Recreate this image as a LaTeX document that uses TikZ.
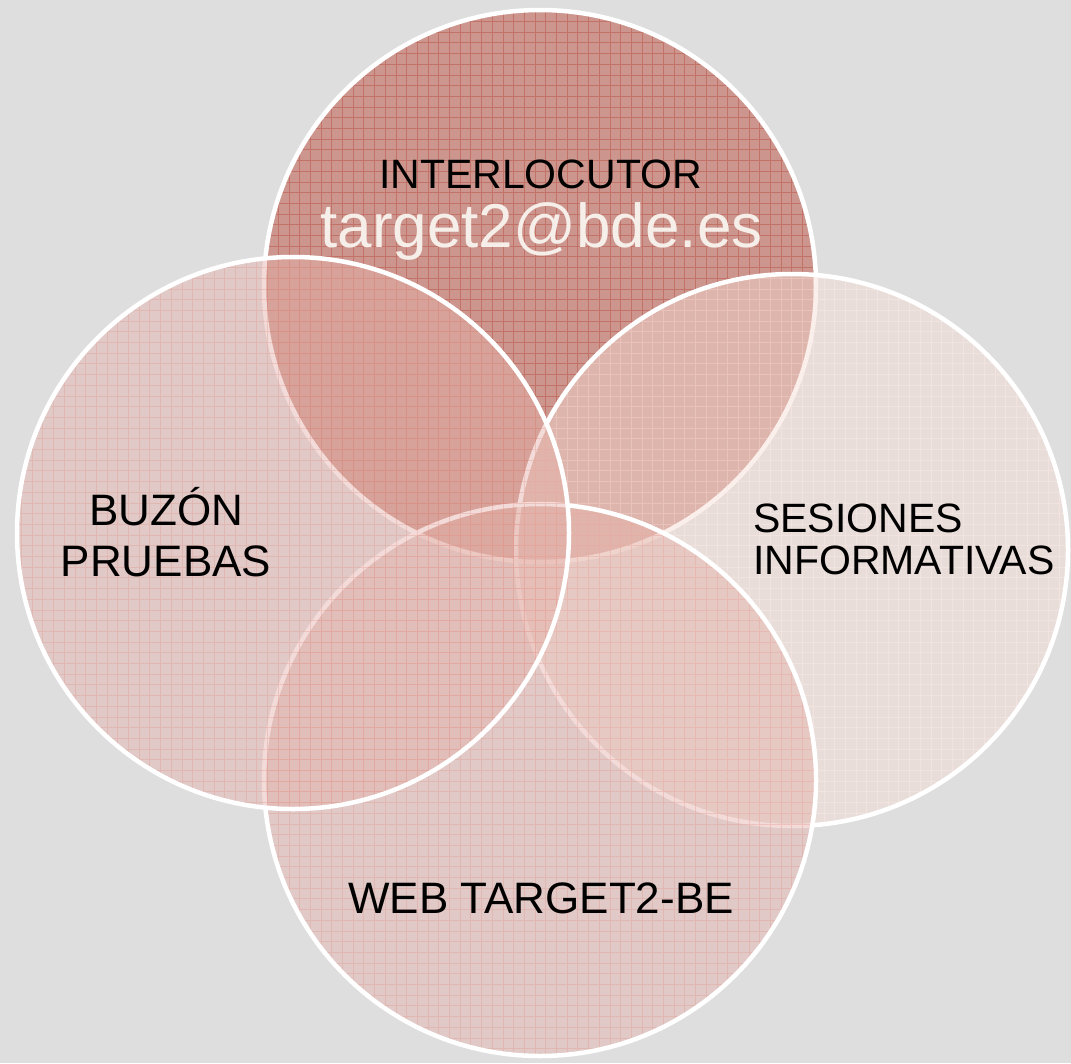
\documentclass[tikz,border=0pt]{standalone}
\usepackage{fontspec}
\setmainfont{Liberation Sans}
\definecolor{bgcol}{RGB}{222,222,222}
\definecolor{topfill}{RGB}{204,150,142}
\definecolor{topgrid}{RGB}{185,80,64}
\definecolor{rightfill}{RGB}{246,220,212}
\definecolor{rightgrid}{RGB}{252,238,234}
\definecolor{leftfill}{RGB}{228,178,170}
\definecolor{leftgrid}{RGB}{228,150,140}
\definecolor{emailcol}{RGB}{246,238,233}
\tikzset{
  ring/.style={draw=white, line width=4.5pt},
  lbl/.style={inner sep=0pt, text=black, anchor=base},
  gridtop/.style={topgrid, line width=0.8pt, opacity=0.5},
  gridright/.style={rightgrid, line width=0.8pt, opacity=0.45},
  gridlow/.style={leftgrid, line width=0.7pt, opacity=0.35},
}
\begin{document}
\begin{tikzpicture}[x=1pt,y=-1pt]
\fill[bgcol] (0,0) rectangle (1071,1063);
\useasboundingbox (0,0) rectangle (1071,1063);
% top circle
\fill[topfill] (540,286) circle (276);
\begin{scope}
  \clip (540,286) circle (276);
  \draw[gridtop] foreach \k in {0,...,100} {(0,\k*10.7) -- (1071,\k*10.7) (\k*10.7,0) -- (\k*10.7,1063)};
\end{scope}
\draw[ring] (540,286) circle (276);
% right circle
\fill[rightfill, fill opacity=0.45] (792,550) circle (276);
\begin{scope}
  \clip (792,550) circle (276);
  \draw[gridright] foreach \k in {0,...,100} {(0,\k*10.7) -- (1071,\k*10.7) (\k*10.7,0) -- (\k*10.7,1063)};
\end{scope}
\draw[ring] (792,550) circle (276);
% bottom circle
\fill[leftfill, fill opacity=0.46] (540,780) circle (276);
\begin{scope}
  \clip (540,780) circle (276);
  \draw[gridlow] foreach \k in {0,...,100} {(0,\k*10.7) -- (1071,\k*10.7) (\k*10.7,0) -- (\k*10.7,1063)};
\end{scope}
\draw[ring] (540,780) circle (276);
% left circle
\fill[leftfill, fill opacity=0.46] (293,533) circle (276);
\begin{scope}
  \clip (293,533) circle (276);
  \draw[gridlow] foreach \k in {0,...,100} {(0,\k*10.7) -- (1071,\k*10.7) (\k*10.7,0) -- (\k*10.7,1063)};
\end{scope}
\draw[ring] (293,533) circle (276);
% labels
\node[lbl, font=\fontsize{41}{48}\selectfont] (interl) at (540.5,188) {INTERLOCUTOR};
\node[lbl, text=emailcol, font=\fontsize{62}{70}\selectfont] (mail) at (541.5,247) {target2@bde.es};
\node[lbl, font=\fontsize{44}{50}\selectfont] (buzon1) at (166,525) {BUZÓN};
\node[lbl, font=\fontsize{44}{50}\selectfont] (buzon2) at (166,576) {PRUEBAS};
\node[lbl, anchor=base west, font=\fontsize{41}{48}\selectfont] (sesion1) at (753,532) {SESIONES};
\node[lbl, anchor=base west, font=\fontsize{41}{48}\selectfont] (sesion2) at (753,574) {INFORMATIVAS};
\node[lbl, font=\fontsize{44}{50}\selectfont] (web) at (541,913) {WEB TARGET2-BE};
\end{tikzpicture}
\end{document}
